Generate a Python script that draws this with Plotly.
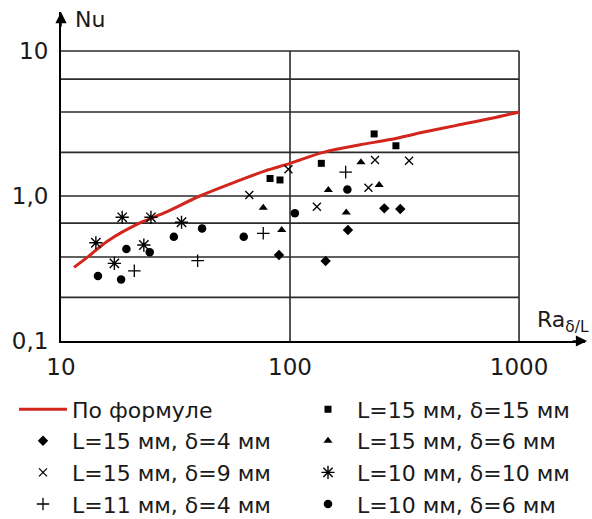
import plotly.graph_objects as go

# ---- data ----
formula_ra = [11.4, 13.1, 16.0, 22.0, 28.4, 40.4, 60.0, 77.8, 100, 139.7, 200, 273.6, 380, 534, 750, 1000]
formula_nu = [0.322, 0.38, 0.49, 0.65, 0.767, 1.0, 1.28, 1.49, 1.68, 2.0, 2.25, 2.45, 2.75, 3.07, 3.42, 3.8]

sq_ra = [81.8, 90.4, 137, 233, 290]            # L=15 мм, δ=15 мм
sq_nu = [1.32, 1.29, 1.68, 2.68, 2.22]

dia_ra = [89.5, 143, 179, 258, 303]            # L=15 мм, δ=4 мм
dia_nu = [0.392, 0.356, 0.583, 0.822, 0.813]

tri_ra = [76.4, 92, 147, 176, 204, 245]        # L=15 мм, δ=6 мм
tri_nu = [0.831, 0.583, 1.10, 0.771, 1.71, 1.19]

x_ra = [66.4, 98.4, 131, 220, 235, 331]        # L=15 мм, δ=9 мм
x_nu = [1.016, 1.53, 0.844, 1.14, 1.77, 1.75]

ast_ra = [14.2, 17.1, 18.5, 23.0, 24.7, 33.6]  # L=10 мм, δ=10 мм
ast_nu = [0.476, 0.343, 0.713, 0.459, 0.713, 0.659]

plus_ra = [20.9, 39.5, 76.4, 175]              # L=11 мм, δ=4 мм
plus_nu = [0.305, 0.358, 0.553, 1.46]

circ_ra = [14.5, 18.3, 19.3, 24.4, 31.1, 41.3, 62.8, 105, 178]  # L=10 мм, δ=6 мм
circ_nu = [0.281, 0.266, 0.431, 0.409, 0.524, 0.598, 0.524, 0.76, 1.11]

grid_nu = [0.2, 0.38, 0.65, 1.0, 2.0, 3.8, 6.4, 10]
grid_ra = [100, 1000]
ra_min, ra_max = 10, 1000
nu_min, nu_max = 0.1, 10

x_ticks = [10, 100, 1000]
x_ticktext = ["10", "100", "1000"]
y_ticks = [0.1, 1, 10]
y_ticktext = ["0,1", "1,0", "10"]

FONT = "DejaVu Sans, sans-serif"
TXT = "#1a1a1a"

fig = go.Figure()

# grid lines (drawn through the axes)
gx, gy = [], []
for g in grid_nu:
    gx += [ra_min, ra_max, None]
    gy += [g, g, None]
for g in grid_ra:
    gx += [g, g, None]
    gy += [nu_min, nu_max, None]
fig.add_trace(go.Scatter(x=gx, y=gy, mode="lines", line=dict(color="#2b2b2b", width=1.6),
                         showlegend=False, hoverinfo="skip"))

fig.add_trace(go.Scatter(x=formula_ra, y=formula_nu, mode="lines", name="По формуле",
                         line=dict(color="#d2261c", width=3, shape="spline")))

def pts(xs, ys, name, symbol, size, lw=0):
    fig.add_trace(go.Scatter(x=xs, y=ys, mode="markers", name=name,
                             marker=dict(symbol=symbol, size=size, color="black",
                                         line=dict(color="black", width=lw))))

pts(sq_ra, sq_nu, "L=15 мм, δ=15 мм", "square", 7)
pts(dia_ra, dia_nu, "L=15 мм, δ=4 мм", "diamond", 8)
pts(tri_ra, tri_nu, "L=15 мм, δ=6 мм", "triangle-up", 8)
pts(x_ra, x_nu, "L=15 мм, δ=9 мм", "x-thin", 8, 1.3)
pts(ast_ra, ast_nu, "L=10 мм, δ=10 мм", "asterisk", 11, 1.4)
pts(plus_ra, plus_nu, "L=11 мм, δ=4 мм", "cross-thin", 9, 1.3)
pts(circ_ra, circ_nu, "L=10 мм, δ=6 мм", "circle", 8.5)

fig.update_layout(
    width=592, height=519,
    margin=dict(l=61, r=7, t=12, b=178, autoexpand=False),
    paper_bgcolor="white", plot_bgcolor="white",
    font=dict(family=FONT, color=TXT, size=23),
    xaxis=dict(type="log", range=[1, 3.288], tickvals=x_ticks, ticktext=x_ticktext,
               showgrid=False, zeroline=False, showline=True, linecolor="black", linewidth=2,
               ticks="", ticklen=0, ticklabelstandoff=4, tickfont=dict(size=23)),
    yaxis=dict(type="log", range=[-1, 1.269], tickvals=y_ticks, ticktext=y_ticktext,
               showgrid=False, zeroline=False, showline=True, linecolor="black", linewidth=2,
               ticks="", ticklen=0, ticklabelstandoff=6, tickfont=dict(size=23)),
    showlegend=True,
    legend=dict(orientation="h", x=-0.0897, xanchor="left", y=-0.144, yanchor="top",
                entrywidth=222, entrywidthmode="pixels", itemwidth=48,
                font=dict(size=22, family=FONT, color=TXT),
                bgcolor="rgba(0,0,0,0)", itemsizing="trace"),
    annotations=[
        dict(xref="paper", yref="paper", x=1.004, y=0, ax=-16, ay=0, text="", showarrow=True,
             arrowhead=2, arrowsize=1.4, arrowwidth=1.6, arrowcolor="black"),
        dict(xref="paper", yref="paper", x=0, y=1.0, ax=0, ay=16, text="", showarrow=True,
             arrowhead=2, arrowsize=1.4, arrowwidth=1.6, arrowcolor="black"),
        dict(xref="paper", yref="paper", x=0.022, y=0.9757, xanchor="left", yanchor="middle",
             text="Nu", showarrow=False, font=dict(size=22)),
        dict(xref="paper", yref="paper", x=1.012, y=0.058, xanchor="right", yanchor="middle",
             text="Ra<sub>δ/L</sub>", showarrow=False, font=dict(size=22)),
    ],
)

fig.write_html("out.html", config={"displayModeBar": False},
               post_script="document.body.style.margin='0px';")
